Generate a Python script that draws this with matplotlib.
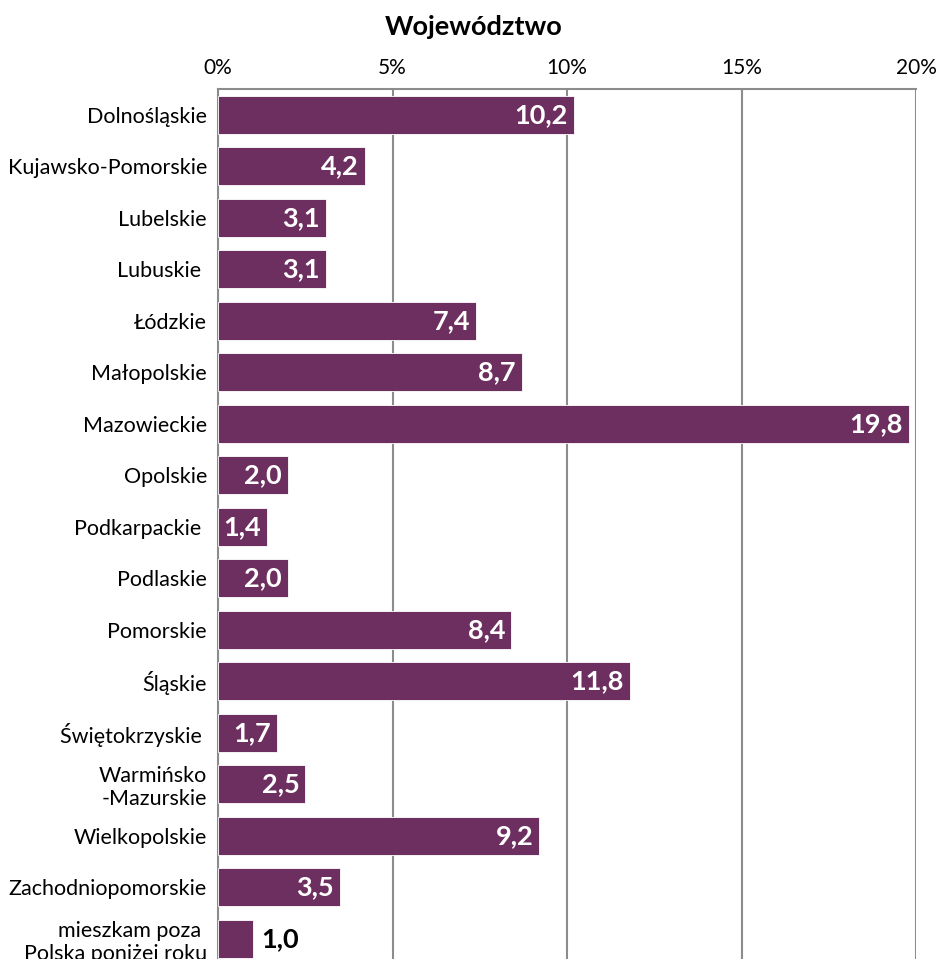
import matplotlib.pyplot as plt
import numpy as np

plt.rcParams['font.family'] = ['Lato', 'DejaVu Sans']

regions = ['Dolnośląskie', 'Kujawsko-Pomorskie', 'Lubelskie', 'Lubuskie ', 'Łódzkie',
           'Małopolskie', 'Mazowieckie', 'Opolskie', 'Podkarpackie ', 'Podlaskie',
           'Pomorskie', 'Śląskie', 'Świętokrzyskie ', 'Warmińsko\n-Mazurskie',
           'Wielkopolskie', 'Zachodniopomorskie', 'mieszkam poza \nPolską poniżej roku']
values = [10.2, 4.2, 3.1, 3.1, 7.4, 8.7, 19.8, 2.0, 1.4, 2.0, 8.4, 11.8, 1.7, 2.5, 9.2, 3.5, 1.0]
ticks = [0, 5, 10, 15, 20]

bar_color = '#6c2f5f'
grid_color = '#8c8c8c'

fig = plt.figure(figsize=(9.41, 9.59), dpi=100)
ax = fig.add_axes([218 / 941, -0.0058, 698 / 941, 0.913])

y = np.arange(len(regions))
ax.barh(y, values, height=0.74, color=bar_color, edgecolor='white', linewidth=0.6, zorder=3)

for yi, v in zip(y, values):
    txt = f'{v:.1f}'.replace('.', ',')
    if v >= 1.3:
        ax.text(v - 0.17, yi, txt, ha='right', va='center', color='white',
                fontsize=19.5, fontweight='bold', zorder=4)
    else:
        ax.text(v + 0.25, yi, txt, ha='left', va='center', color='black',
                fontsize=19.5, fontweight='bold', zorder=4)

ax.set_ylim(len(regions) - 0.5, -0.5)
ax.set_xlim(0, 20)
ax.set_yticks(y)
ax.set_yticklabels(regions, fontsize=15.5)
ax.set_xticks(ticks)
ax.set_xticklabels([f'{t}%' for t in ticks], fontsize=15)
ax.xaxis.tick_top()
ax.tick_params(axis='both', length=0)
ax.tick_params(axis='y', pad=8)
ax.tick_params(axis='x', pad=8)

ax.grid(axis='x', color=grid_color, linewidth=1.5, zorder=0)
for s in ['right', 'bottom']:
    ax.spines[s].set_visible(False)
for s in ['top', 'left']:
    ax.spines[s].set_color(grid_color)
    ax.spines[s].set_linewidth(1.5)

fig.text(474 / 941, 1 - 27 / 959, 'Województwo', ha='center', va='center',
         fontsize=19.5, fontweight='bold')

fig.savefig('out.png', dpi=100)
